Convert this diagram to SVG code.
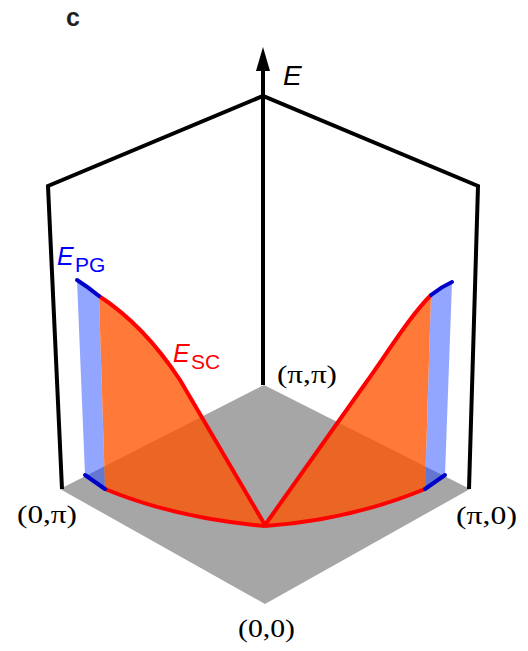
<svg xmlns="http://www.w3.org/2000/svg" width="528" height="651" viewBox="0 0 528 651">
<style>
.frame{fill:none;stroke:#000;stroke-width:4;stroke-linejoin:miter}
.orange{fill:#ff5400;fill-opacity:0.78;stroke:none}
.blueband{fill:#1e46ff;fill-opacity:0.48;stroke:none}
.red{fill:none;stroke:#ff0000;stroke-width:4;stroke-linecap:butt;stroke-linejoin:round}
.blue{fill:none;stroke:#0000c8;stroke-width:4;stroke-linecap:round}
.pt{font-family:"Liberation Serif","Times New Roman",serif;font-size:25px;fill:#000}
.sans{font-family:"Liberation Sans",Arial,sans-serif}
</style>
<defs>
<marker id="arrow" markerWidth="26" markerHeight="16" refX="2" refY="8" orient="auto" markerUnits="userSpaceOnUse" viewBox="0 0 26 16">
<path d="M0,1 L24,8 L0,15 Z" fill="#000"/>
</marker>
</defs>
<rect width="528" height="651" fill="#fff"/>
<g id="floor">
<polygon points="264,385 470,489 265,604 60,489" fill="#a6a6a6"/>
</g>
<g id="box">
<polyline class="frame" points="62,489 48,186 263,96 478,186 469,489"/>
</g>
<g id="left-surface">
<polygon class="blueband" points="77,280 99,296 105,489 85,475"/>
<path class="orange" d="M99,296 C130,316 155,342 180,380 L265,525 Q175,518 105,489 Z"/>
<path class="red" d="M99,296 C130,316 155,342 180,380 L265,525"/>
<path class="red" d="M105,489 Q175,518 265,526"/>
<path class="blue" d="M77,280 Q88,287 99,296"/>
<path class="blue" d="M85,475 L105,489"/>
</g>
<g id="right-surface">
<polygon class="blueband" points="431,295 452,282 445,475 425,489"/>
<path class="orange" d="M265,525 L365,384 C390,349 410,316 431,295 L425,489 Q350,520 265,526 Z"/>
<path class="red" d="M265,525 L365,384 C390,349 410,316 431,295"/>
<path class="red" d="M265,526 Q350,520 425,489"/>
<path class="blue" d="M431,295 Q441,287 452,282"/>
<path class="blue" d="M425,489 L445,475"/>
</g>
<g id="connectors">
<line id="energy-axis" x1="263" y1="385" x2="263" y2="69" stroke="#000" stroke-width="4" marker-end="url(#arrow)"/>
</g>
<g id="labels">
<text class="sans" x="66" y="26" font-size="25" font-weight="bold" fill="#231f20">c</text>
<text class="sans" x="283" y="85" font-size="28" font-style="italic" fill="#000">E</text>
<g id="label-EPG" fill="#0000ff"><text class="sans" x="57" y="265" font-size="25" font-style="italic">E</text><text class="sans" x="75" y="272" font-size="21">PG</text></g>
<g id="label-ESC" fill="#ff0000"><text class="sans" x="173" y="362" font-size="25" font-style="italic">E</text><text class="sans" x="191" y="369" font-size="21">SC</text></g>
<text class="pt" x="277" y="383" textLength="60" lengthAdjust="spacingAndGlyphs">(π,π)</text>
<text class="pt" x="17" y="523" textLength="60" lengthAdjust="spacingAndGlyphs">(0,π)</text>
<text class="pt" x="456" y="524" textLength="61" lengthAdjust="spacingAndGlyphs">(π,0)</text>
<text class="pt" x="238" y="637" textLength="57" lengthAdjust="spacingAndGlyphs">(0,0)</text>
</g>
</svg>
